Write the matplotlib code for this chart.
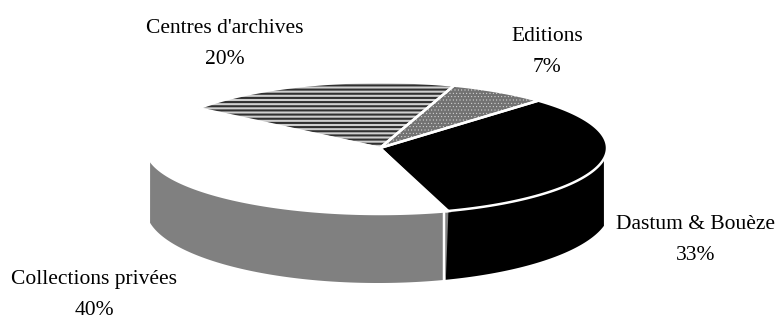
import numpy as np
import matplotlib
matplotlib.use("Agg")
import matplotlib.pyplot as plt
from matplotlib.patches import Polygon

labels = ["Dastum & Bouèze", "Editions", "Centres d'archives", "Collections privées"]
shares = [33, 7, 20, 40]
label_pos = [(696, 240), (547, 52), (225, 44), (94, 295)]

plt.rcParams["font.family"] = "Liberation Serif"

fig = plt.figure(figsize=(7.79, 3.2), dpi=100)
ax = fig.add_axes([0, 0, 1, 1])
ax.set_xlim(0, 779)
ax.set_ylim(320, 0)
ax.axis("off")

# Projected disc: top rim, bottom rim, apex
CX, CY, A, B = 380, 148, 227, 66
BX, BY, BA, BB = 378, 209, 232, 74
START = -73.0
LEFT_LIMIT, RIGHT_LIMIT = 150, 604
GAP = 2.4


def rim(a0, a1, cx, cy, ra, rb, n=240):
    t = np.radians(np.linspace(a0, a1, n))
    return np.column_stack([cx + ra * np.cos(t), cy - rb * np.sin(t)])


edges = START + np.concatenate([[0], np.cumsum(shares)]) * 3.6
apex = np.array([[CX, CY]])


def wall(a0, a1, color, ra):
    # Side of the disc between the two rims, cut off at the silhouette
    top = rim(a0, a1, CX, CY, ra, B)
    bot = rim(a1, a0, BX, BY, BA, BB)
    top = top[(top[:, 0] >= LEFT_LIMIT) & (top[:, 0] <= RIGHT_LIMIT)]
    bot = bot[(bot[:, 0] >= LEFT_LIMIT) & (bot[:, 0] <= RIGHT_LIMIT)]
    ax.add_patch(Polygon(np.vstack([top, bot]), closed=True, fc=color, ec="none", zorder=1))


wall(edges[0], 0, "black", A)
wall(-180, edges[0], "#808080", A + 7)

# Top faces, with fill patterns applied as hatches
faces = [
    dict(fc="black", ec="black", hatch=None, hatch_lw=0),
    dict(fc="#727272", ec="#e4e4e4", hatch="." * 5, hatch_lw=0.3),
    dict(fc="#d0d0d0", ec="#303030", hatch="-" * 4, hatch_lw=1.5),
    dict(fc="white", ec="white", hatch=None, hatch_lw=0),
]
for i, style in enumerate(faces):
    a0, a1 = edges[i], edges[i + 1]
    ra = A + 7 if i == 3 else A
    pts = np.vstack([apex, rim(a0, a1, CX, CY, ra, B)])
    plt.rcParams["hatch.linewidth"] = style["hatch_lw"] or 1.0
    ax.add_patch(Polygon(pts, closed=True, fc=style["fc"], ec=style["ec"], lw=0,
                         hatch=style["hatch"], zorder=3))
    # White outline separating the slices
    ax.add_patch(Polygon(pts, closed=True, fc="none", ec="white", lw=GAP * 0.75,
                         joinstyle="miter", zorder=4))

# Seam between the two wall colours
sx = CX + A * np.cos(np.radians(START))
ax.plot([sx - 2, sx - 2],
        [CY - B * np.sin(np.radians(START)), BY - BB * np.sin(np.radians(START))],
        color="white", lw=GAP * 0.75, zorder=2)

for name, share, (x, y) in zip(labels, shares, label_pos):
    ax.text(x, y, f"{name}\n{share}%", ha="center", va="center", fontsize=15.5,
            linespacing=1.85, color="black", zorder=5)

fig.savefig("out.png", dpi=100)
